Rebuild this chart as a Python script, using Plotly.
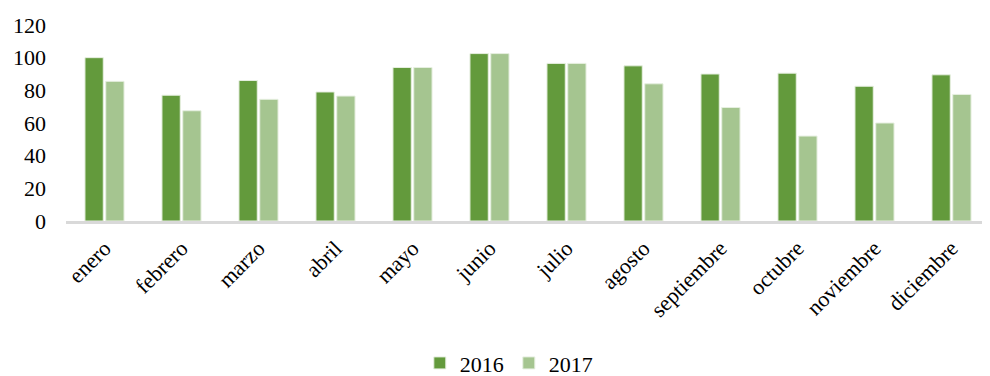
import plotly.graph_objects as go

months = ["enero", "febrero", "marzo", "abril", "mayo", "junio", "julio",
          "agosto", "septiembre", "octubre", "noviembre", "diciembre"]
v2016 = [100, 77, 86, 79, 94, 102.5, 96.5, 95, 90, 90.5, 82.5, 89.5]
v2017 = [85.5, 67.5, 74.5, 76.5, 94, 102.5, 96.5, 84, 69.5, 52, 60, 77.5]
yticks = [0, 20, 40, 60, 80, 100, 120]

font = "Liberation Serif, Times New Roman, serif"

fig = go.Figure()
fig.add_trace(go.Bar(x=months, y=v2016, name="2016",
                     marker=dict(color="#639a3c", line=dict(color="#e6efe0", width=1))))
fig.add_trace(go.Bar(x=months, y=v2017, name="2017",
                     marker=dict(color="#a5c590", line=dict(color="#e6efe0", width=1))))

fig.update_layout(
    width=982, height=368,
    margin=dict(l=58, r=0, t=17, b=155),
    paper_bgcolor="white", plot_bgcolor="white",
    barmode="group", bargap=0.46, bargroupgap=0.12,
    font=dict(family=font, size=22, color="#000000"),
    showlegend=True,
    legend=dict(orientation="h", x=0.51, xanchor="center", xref="container",
                y=0.035, yanchor="middle", yref="container",
                font=dict(family=font, size=22), itemwidth=30, traceorder="normal"),
    xaxis=dict(tickangle=-45, showline=True, linecolor="#d9d9d9", linewidth=2.5,
               showgrid=False, ticks="", automargin=False, ticklabelstandoff=3,
               tickfont=dict(family=font, size=22)),
    yaxis=dict(range=[0, 120], tickvals=yticks, showgrid=False, showline=False,
               zeroline=False, ticks="", automargin=False, ticklabelstandoff=19,
               tickfont=dict(family=font, size=22)),
)

fig.write_html("out.html")
